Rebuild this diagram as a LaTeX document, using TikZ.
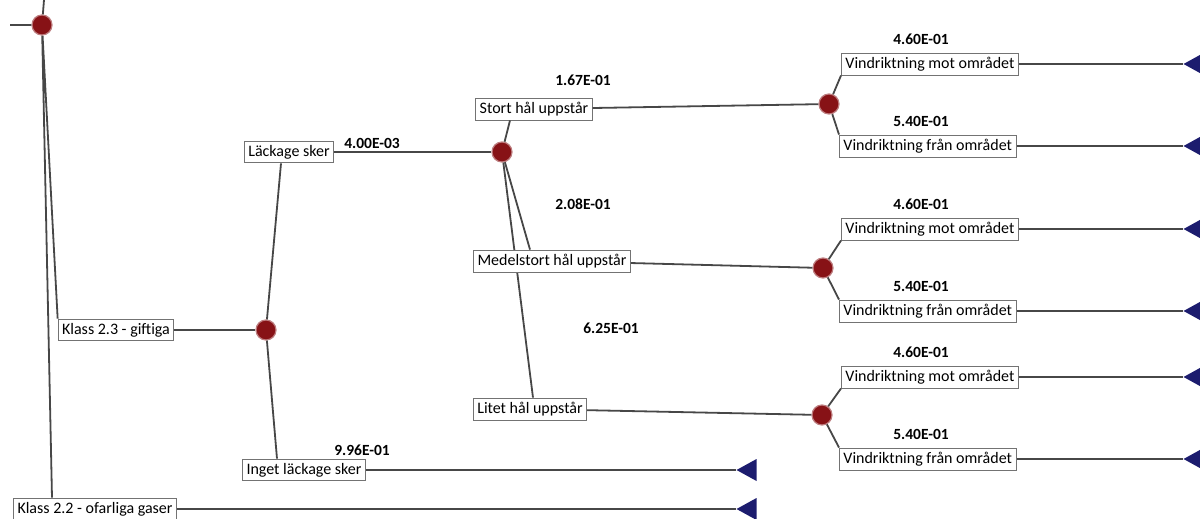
\documentclass[tikz,border=0pt]{standalone}
\usepackage{fontspec}
\setmainfont{Carlito}
\usetikzlibrary{positioning, shapes.geometric}
\definecolor{chancered}{RGB}{135,18,22}
\definecolor{termblue}{RGB}{28,28,110}
\tikzset{
  event/.style={draw=black!55, fill=white, line width=0.9pt, inner xsep=4pt, inner ysep=4pt,
    font=\fontsize{16}{18}\selectfont},
  chance/.style={circle, fill=chancered, draw=chancered!55, line width=1.2pt, minimum size=20pt, inner sep=0pt},
  term/.style={isosceles triangle, shape border rotate=180, isosceles triangle stretches,
    fill=termblue, minimum width=22pt, minimum height=20pt, inner sep=0pt, anchor=apex},
  prob/.style={font=\bfseries\fontsize{15.5}{17}\selectfont},
  branch/.style={draw=black!72, line width=1.8pt}
}

\begin{document}
\begin{tikzpicture}[x=1pt, y=-1pt]
  \useasboundingbox (0,0) rectangle (1200,519);
  % root
  \coordinate (in) at (10,25);
  \coordinate (top) at (44,0);
  \node[chance] (c1) at (42,25) {};
  \node[event] (k23) at (116,330) {Klass 2.3 - giftiga};
  \node[event] (k22) at (95,509) {Klass 2.2 - ofarliga gaser};
  \node[term] (t22) at (736,509) {};
  \draw[branch] (in) -- (c1) (top) -- (c1);
  \draw[branch] (c1) -- (k23.north west) (c1) -- ([xshift=-43pt]k22.north);
  \draw[branch] (k22) -- (t22);
  % leakage
  \node[chance] (c2) at (266,330) {};
  \node[event] (lack) at (289,152) {Läckage sker};
  \node[event] (inget) at (304,470) {Inget läckage sker};
  \node[term] (tinget) at (736,470) {};
  \node[prob] at (372,143) {4.00E-03};
  \node[prob] at (362,450) {9.96E-01};
  \draw[branch] (k23) -- (c2);
  \draw[branch] (c2) -- ([xshift=-8pt]lack.south) (c2) -- ([xshift=-27pt]inget.north);
  \draw[branch] (inget) -- (tinget);
  % hole size
  \node[chance] (c3) at (502,152) {};
  \draw[branch] (lack) -- (c3);
  \node[event] (stort) at (534,109) {Stort hål uppstår};
  \node[event] (medel) at (552,261) {Medelstort hål uppstår};
  \node[event] (litet) at (530,409) {Litet hål uppstår};
  \draw[branch] (c3) -- ([xshift=3pt]litet.north);
  \node[event] at (552,261) {Medelstort hål uppstår};
  \draw[branch] (c3) -- ([xshift=-24pt]stort.south) (c3) -- ([xshift=-22pt]medel.north);
  \node[prob] at (583,80) {1.67E-01};
  \node[prob] at (583,204) {2.08E-01};
  \node[prob] at (611,328) {6.25E-01};
  % wind direction
  \foreach \n/\x/\y/\ya/\yb in {4/829/104/64/146, 5/823/268/229/311, 6/822/415/377/459} {
    \node[chance] (c\n) at (\x,\y) {};
    \node[event, anchor=west] (mot\n) at (841,\ya) {Vindriktning mot området};
    \node[event, anchor=west] (fran\n) at (839,\yb) {Vindriktning från området};
    \node[prob] at (921,\ya-25) {4.60E-01};
    \node[prob] at (921,\yb-25) {5.40E-01};
    \node[term] (tm\n) at (1183,\ya) {};
    \node[term] (tf\n) at (1183,\yb) {};
    \draw[branch] (c\n) -- (mot\n.south west) (c\n) -- (fran\n.north west);
    \draw[branch] (mot\n) -- (tm\n) (fran\n) -- (tf\n);
  }
  \draw[branch] (stort) -- (c4);
  \draw[branch] (medel) -- (c5);
  \draw[branch] (litet) -- (c6);
\end{tikzpicture}
\end{document}
